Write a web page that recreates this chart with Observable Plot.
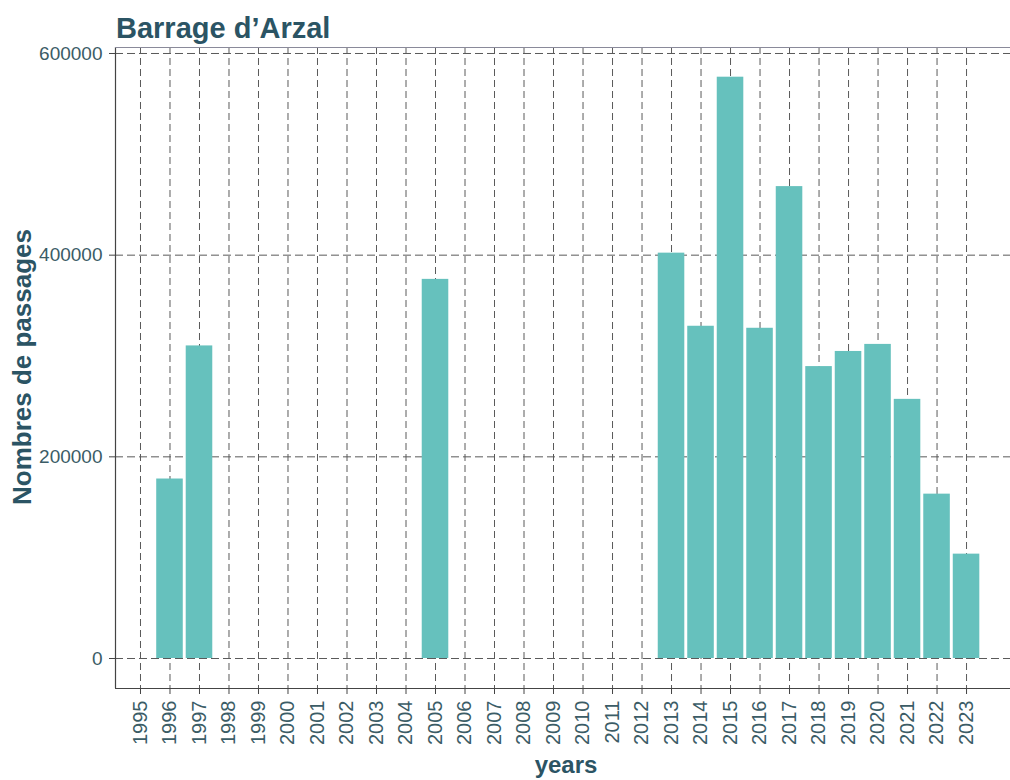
<!DOCTYPE html>
<html>
<head>
<meta charset="utf-8">
<script src="https://cdn.jsdelivr.net/npm/d3@7"></script>
<script src="https://cdn.jsdelivr.net/npm/@observablehq/plot@0.6"></script>
<style>
  html, body { margin: 0; padding: 0; background: #ffffff; }
  #chart svg { display: block; }
</style>
</head>
<body>
<div id="chart"></div>
<script>
// ---- data ----
const years = [1996, 1997, 2005, 2013, 2014, 2015, 2016, 2017, 2018, 2019, 2020, 2021, 2022, 2023];
const passages = [178000, 310000, 376000, 402000, 329500, 576500, 327500, 468000, 289500, 304500, 311500, 257000, 163000, 103500];
const tickYears = [1995, 1996, 1997, 1998, 1999, 2000, 2001, 2002, 2003, 2004, 2005, 2006, 2007, 2008, 2009,
                   2010, 2011, 2012, 2013, 2014, 2015, 2016, 2017, 2018, 2019, 2020, 2021, 2022, 2023];
const yTicks = [0, 200000, 400000, 600000];
const titleText = "Barrage d’Arzal";
const yTitle = "Nombres de passages";
const xTitle = "years";

const data = years.map((year, i) => ({year, value: passages[i]}));

const textColor = "#3b5c66";
const titleColor = "#2b5464";
const gridColor = "#5a5a5a";
const barColor = "#66c1bd";

const chart = Plot.plot({
  width: 1010,
  height: 780,
  marginTop: 47,
  marginBottom: 92,
  marginLeft: 115,
  marginRight: 0,
  style: {fontFamily: "'Liberation Sans', Arial, sans-serif", background: "#ffffff", color: textColor, overflow: "visible"},
  x: {type: "linear", domain: [1994.153, 2024.49]},
  y: {domain: [-29752, 605950]},
  marks: [
    Plot.ruleX(tickYears, {stroke: gridColor, strokeWidth: 1, strokeDasharray: "7,4"}),
    Plot.ruleY(yTicks, {stroke: gridColor, strokeWidth: 1, strokeDasharray: "8,4"}),
    Plot.rectY(data, {x1: d => d.year - 0.45, x2: d => d.year + 0.45, y1: 0, y2: "value", fill: barColor}),
    Plot.axisX({ticks: tickYears, tickFormat: d => String(d), tickRotate: -90, tickSize: 6, tickPadding: 6,
                fontSize: 20, label: null, stroke: "#444", fill: textColor}),
    Plot.axisY({ticks: yTicks, tickFormat: d3.format("d"), tickSize: 6, tickPadding: 7,
                fontSize: 19, label: null, stroke: "#444", fill: textColor}),
    Plot.ruleX([1994.153], {stroke: "#444", strokeWidth: 1.2}),
    Plot.ruleY([-29752], {stroke: "#444", strokeWidth: 1.2}),
    Plot.ruleY([605950], {stroke: "#8a8a9a", strokeWidth: 1.2})
  ]
});

const svg = d3.select(chart);
svg.append("text")
  .attr("x", 116).attr("y", 38)
  .attr("text-anchor", "start")
  .attr("font-size", 29).attr("font-weight", "bold")
  .attr("fill", titleColor)
  .attr("font-family", "'Liberation Sans', Arial, sans-serif")
  .text(titleText);
svg.append("text")
  .attr("transform", "translate(31,367) rotate(-90)")
  .attr("text-anchor", "middle")
  .attr("font-size", 26).attr("font-weight", "bold")
  .attr("fill", titleColor)
  .attr("font-family", "'Liberation Sans', Arial, sans-serif")
  .text(yTitle);
svg.append("text")
  .attr("x", 566).attr("y", 773)
  .attr("text-anchor", "middle")
  .attr("font-size", 24).attr("font-weight", "bold")
  .attr("fill", titleColor)
  .attr("font-family", "'Liberation Sans', Arial, sans-serif")
  .text(xTitle);

document.getElementById("chart").appendChild(chart);
</script>
</body>
</html>
